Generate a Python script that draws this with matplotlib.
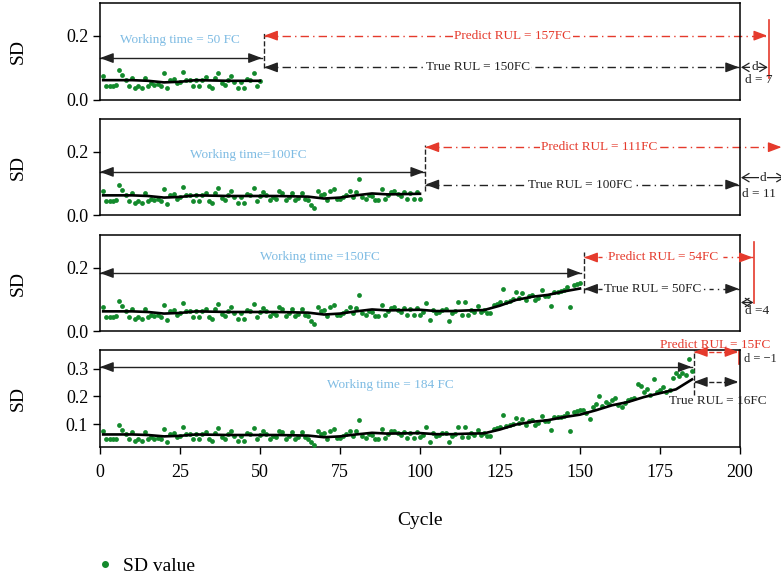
import matplotlib.pyplot as plt
import numpy as np

plt.rcParams['font.family'] = ['Liberation Serif', 'DejaVu Serif']

# SD value per cycle (cycles 1..185)
sd_values = [
    0.075, 0.045, 0.045, 0.045, 0.046, 0.095, 0.078, 0.062, 0.045, 0.070,
    0.039, 0.045, 0.039, 0.070, 0.045, 0.052, 0.047, 0.050, 0.045, 0.083,
    0.036, 0.062, 0.066, 0.052, 0.057, 0.089, 0.062, 0.064, 0.045, 0.062,
    0.045, 0.062, 0.071, 0.044, 0.039, 0.068, 0.085, 0.054, 0.047, 0.062,
    0.075, 0.057, 0.039, 0.057, 0.039, 0.066, 0.062, 0.085, 0.045, 0.060,
    0.073, 0.062, 0.047, 0.057, 0.052, 0.075, 0.071, 0.047, 0.057, 0.070,
    0.047, 0.054, 0.070, 0.052, 0.047, 0.033, 0.023, 0.075, 0.062, 0.066,
    0.047, 0.075, 0.081, 0.049, 0.049, 0.057, 0.062, 0.075, 0.057, 0.073,
    0.115, 0.057, 0.049, 0.062, 0.059, 0.047, 0.047, 0.081, 0.050, 0.062,
    0.073, 0.075, 0.066, 0.060, 0.072, 0.050, 0.068, 0.050, 0.072, 0.052,
    0.061, 0.088, 0.035, 0.067, 0.058, 0.060, 0.066, 0.068, 0.033, 0.058,
    0.062, 0.090, 0.052, 0.090, 0.052, 0.067, 0.060, 0.078, 0.061, 0.067,
    0.058, 0.058, 0.081, 0.085, 0.090, 0.132, 0.093, 0.096, 0.100, 0.122,
    0.104, 0.119, 0.098, 0.110, 0.115, 0.098, 0.104, 0.129, 0.110, 0.112,
    0.078, 0.124, 0.124, 0.127, 0.130, 0.139, 0.075, 0.145, 0.148, 0.152,
    0.150, 0.140, 0.117, 0.161, 0.172, 0.203, 0.165, 0.179, 0.172, 0.187,
    0.193, 0.170, 0.163, 0.178, 0.187, 0.190, 0.195, 0.244, 0.238, 0.218,
    0.226, 0.205, 0.262, 0.218, 0.225, 0.233, 0.218, 0.222, 0.266, 0.284,
    0.275, 0.284, 0.278, 0.335, 0.293,
]
cycles = np.arange(1, len(sd_values) + 1)

# smoothed trend (black line), read at every 5 cycles
trend_cycle = [1, 5, 10, 15, 20, 25, 30, 35, 40, 45, 50, 55, 60, 65, 70, 75, 80,
               85, 90, 95, 100, 105, 110, 115, 120, 125, 130, 135, 140, 145, 150,
               155, 160, 165, 170, 175, 180, 185]
trend_value = [0.062, 0.062, 0.062, 0.060, 0.055, 0.057, 0.062, 0.061, 0.060, 0.060,
               0.060, 0.060, 0.059, 0.058, 0.052, 0.055, 0.062, 0.068, 0.065, 0.066,
               0.067, 0.063, 0.063, 0.065, 0.066, 0.080, 0.098, 0.108, 0.114, 0.125,
               0.134, 0.150, 0.168, 0.180, 0.198, 0.212, 0.226, 0.262]

working_time = [50, 100, 150, 185]
working_labels = ['Working time = 50 FC', 'Working time=100FC',
                  'Working time =150FC', 'Working time = 184 FC']
predict_labels = ['Predict RUL = 157FC', 'Predict RUL = 111FC',
                  'Predict RUL = 54FC', 'Predict RUL = 15FC']
true_labels = ['True RUL = 150FC', 'True RUL = 100FC',
               'True RUL = 50FC', 'True RUL = 16FC']
d_labels = ['d = 7', 'd = 11', 'd =4', 'd = \u22121']

GREEN = '#138a2c'
BLUE = '#7dbbe3'
RED = '#e53a2c'
DARK = '#222222'

fig = plt.figure(figsize=(7.81, 5.80), dpi=100)
W, H = 781, 580
panel_px = [(3, 100), (119, 215), (235, 331), (350, 447)]
ylims = [(0, 0.303), (0, 0.303), (0, 0.303), (0.0164, 0.369)]
axes = []
for (top, bot), yl in zip(panel_px, ylims):
    ax = fig.add_axes([100 / W, 1 - bot / H, 640 / W, (bot - top) / H])
    ax.set_xlim(0, 200)
    ax.set_ylim(*yl)
    axes.append(ax)


def head(ax, x_tip, x_from, y, color):
    ax.annotate('', xy=(x_tip, y), xytext=(x_from, y),
                arrowprops=dict(arrowstyle='-|>,head_length=0.8,head_width=0.3',
                                color=color, lw=1, shrinkA=0, shrinkB=0,
                                mutation_scale=10),
                annotation_clip=False)


def darrow(ax, x0, x1, y, color, ls):
    ax.plot([x0, x1], [y, y], color=color, ls=ls, lw=1, clip_on=False)
    head(ax, x0, x0 + 3.5, y, color)
    head(ax, x1, x1 - 3.5, y, color)


def d_arrow(ax, x0, x1, y, show_d=True):
    ax.annotate('', xy=(x1, y), xytext=(x0, y),
                arrowprops=dict(arrowstyle='<->,head_length=0.5,head_width=0.3',
                                color=DARK, lw=0.9, shrinkA=0, shrinkB=0,
                                mutation_scale=10),
                annotation_clip=False)
    if show_d:
        ax.text((x0 + x1) / 2, y, 'd', fontsize=9.5, color=DARK, ha='center',
                va='center', bbox=dict(facecolor='white', edgecolor='none', pad=0.5),
                clip_on=False)


tfs = 9.5
for i, ax in enumerate(axes):
    n = working_time[i]
    m = cycles <= n
    ax.scatter(cycles[m], np.array(sd_values)[m], s=12, color=GREEN, zorder=3,
               linewidths=0)
    tc = np.array(trend_cycle)
    tv = np.array(trend_value)
    k = tc <= n
    ax.plot(tc[k], tv[k], color='black', lw=1.9, zorder=4)

    for s in ax.spines.values():
        s.set_linewidth(1.1)
    ax.tick_params(axis='y', direction='out', length=5, width=1, labelsize=13)
    if i < 3:
        ax.set_yticks([0.0, 0.2])
        ax.set_yticklabels(['0.0', '0.2'])
        ax.set_xticks([])
    else:
        ax.set_yticks([0.1, 0.2, 0.3])
        ax.set_yticklabels(['0.1', '0.2', '0.3'])
        ax.set_xticks([0, 25, 50, 75, 100, 125, 150, 175, 200])
        ax.tick_params(axis='x', direction='out', length=5, width=1,
                       labelsize=13, pad=7)
        ax.set_xlabel('Cycle', fontsize=14)
        ax.xaxis.set_label_coords(0.5, -0.67)
    ax.set_ylabel('SD', fontsize=14)
    ax.yaxis.set_label_coords(-0.114, 0.5)

bbox_w = dict(facecolor='white', edgecolor='none', pad=1)

# panel 1
ax = axes[0]
ax.text(25, 0.186, working_labels[0], color=BLUE, fontsize=tfs, ha='center', va='center')
darrow(ax, 0, 50.6, 0.131, DARK, '-')
ax.plot([51.3, 51.3], [0.10, 0.21], color=DARK, ls='--', lw=1)
darrow(ax, 51.3, 208.5, 0.201, RED, (0, (6, 3, 1, 3)))
ax.text(129, 0.201, predict_labels[0], color=RED, fontsize=tfs, ha='center', va='center', bbox=bbox_w)
ax.plot([209, 209], [0.07, 0.25], color=RED, lw=1.2, clip_on=False)
darrow(ax, 51.3, 199.7, 0.102, DARK, (0, (6, 3, 1, 3)))
ax.text(118, 0.102, true_labels[0], color=DARK, fontsize=tfs, ha='center', va='center', bbox=bbox_w)
d_arrow(ax, 200.3, 208.7, 0.102)
ax.text(206, 0.062, d_labels[0], color=DARK, fontsize=tfs, ha='center', va='center')

# panel 2
ax = axes[1]
ax.text(46.3, 0.19, working_labels[1], color=BLUE, fontsize=tfs, ha='center', va='center')
darrow(ax, 0, 101.3, 0.136, DARK, '-')
ax.plot([101.7, 101.7], [0.077, 0.22], color=DARK, ls='--', lw=1)
darrow(ax, 101.7, 213, 0.214, RED, (0, (6, 3, 1, 3)))
ax.text(156, 0.214, predict_labels[1], color=RED, fontsize=tfs, ha='center', va='center', bbox=bbox_w)
darrow(ax, 101.7, 199.7, 0.096, DARK, (0, (6, 3, 1, 3)))
ax.text(150, 0.096, true_labels[1], color=DARK, fontsize=tfs, ha='center', va='center', bbox=bbox_w)
d_arrow(ax, 200.3, 214, 0.118)
ax.text(200.5, 0.065, d_labels[1], color=DARK, fontsize=tfs, ha='left', va='center')

# panel 3
ax = axes[2]
ax.text(68.75, 0.235, working_labels[2], color=BLUE, fontsize=tfs, ha='center', va='center')
darrow(ax, 0, 150.3, 0.183, DARK, '-')
ax.plot([151.3, 151.3], [0.12, 0.25], color=DARK, ls='--', lw=1)
darrow(ax, 151.3, 204, 0.232, RED, (0, (3, 3, 1, 3)))
ax.text(176, 0.232, predict_labels[2], color=RED, fontsize=tfs, ha='center', va='center', bbox=bbox_w)
ax.plot([204.4, 204.4], [0.087, 0.28], color=RED, lw=1.2, clip_on=False)
darrow(ax, 151.3, 199.7, 0.133, DARK, (0, (3, 3, 1, 3)))
ax.text(172.8, 0.133, true_labels[2], color=DARK, fontsize=tfs, ha='center', va='center', bbox=bbox_w)
d_arrow(ax, 200.3, 204.2, 0.09, show_d=False)
ax.text(205.3, 0.062, d_labels[2], color=DARK, fontsize=tfs, ha='center', va='center')

# panel 4
ax = axes[3]
ax.text(90.6, 0.242, working_labels[3], color=BLUE, fontsize=tfs, ha='center', va='center')
darrow(ax, 0, 184.9, 0.307, DARK, '-')
ax.plot([185.6, 185.6], [0.205, 0.369], color=DARK, ls='--', lw=1)
darrow(ax, 185.6, 199.5, 0.362, RED, '--')
ax.plot([199.7, 199.7], [0.318, 0.369], color=RED, lw=1.2)
ax.text(192.3, 0.388, predict_labels[3], color=RED, fontsize=tfs, ha='center', va='center', clip_on=False)
darrow(ax, 185.6, 199.5, 0.253, DARK, '--')
ax.text(193, 0.184, true_labels[3], color=DARK, fontsize=tfs, ha='center', va='center')
ax.text(201.3, 0.336, d_labels[3], color=DARK, fontsize=9, ha='left', va='center')

# legend
h = plt.Line2D([], [], ls='none', marker='o', color=GREEN, markersize=4)
fig.legend(handles=[h], labels=['SD value'], loc='center left',
           bbox_to_anchor=(76 / W, 1 - 566 / H), frameon=False, fontsize=14,
           handletextpad=0.3, handlelength=1.2)

fig.savefig('out.png', dpi=100)
